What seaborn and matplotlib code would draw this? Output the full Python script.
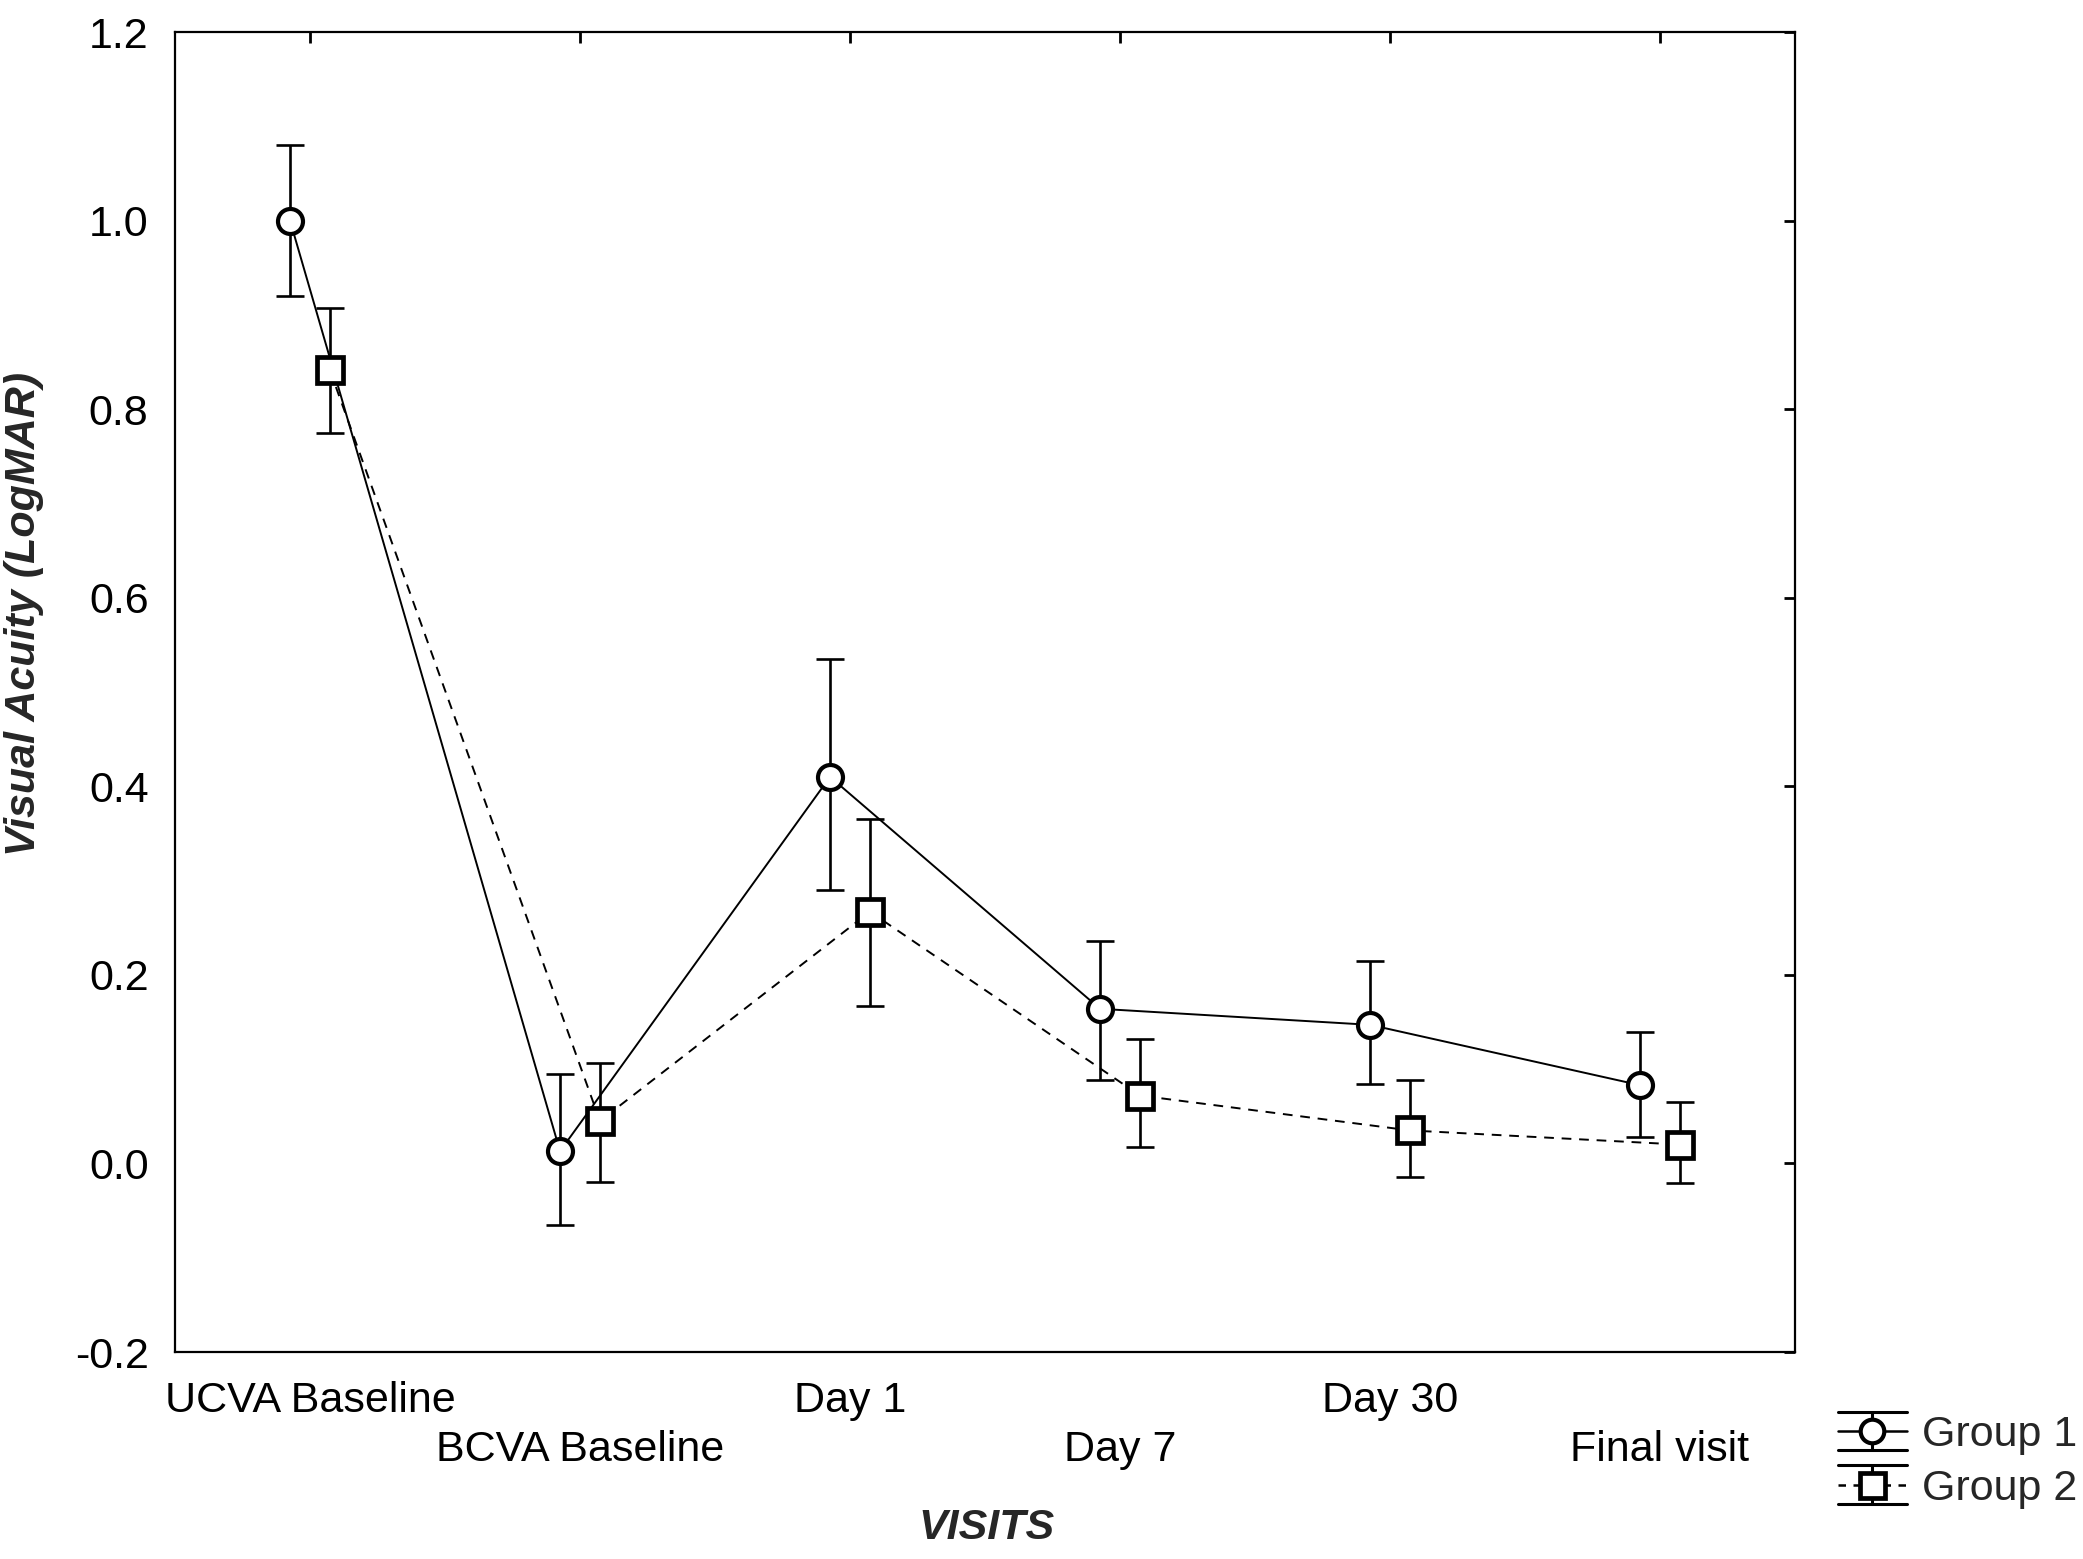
import numpy as np
import pandas as pd
import matplotlib
matplotlib.use("Agg")
import matplotlib.pyplot as plt
import seaborn as sns
from matplotlib.legend_handler import HandlerBase
from matplotlib.lines import Line2D

# ---------------- data ----------------
visits = ["UCVA Baseline", "BCVA Baseline", "Day 1", "Day 7", "Day 30", "Final visit"]
groups = ["Group 1", "Group 2"]
g1_mean = [1.000, 0.013, 0.410, 0.164, 0.147, 0.083]
g1_low = [0.920, -0.065, 0.290, 0.088, 0.084, 0.028]
g1_high = [1.080, 0.095, 0.535, 0.236, 0.215, 0.139]
g2_mean = [0.841, 0.045, 0.267, 0.072, 0.035, 0.020]
g2_low = [0.775, -0.020, 0.167, 0.017, -0.014, -0.021]
g2_high = [0.907, 0.107, 0.365, 0.132, 0.088, 0.065]
yticks = [-0.2, 0.0, 0.2, 0.4, 0.6, 0.8, 1.0, 1.2]

# ---------------- styling ----------------
sns.set_theme(style="white")
plt.rcParams["font.family"] = ["Liberation Sans", "DejaVu Sans"]
FS = 31

DODGE = {"Group 1": -0.074, "Group 2": 0.074}
rows = []
for g, m, lo, hi in [("Group 1", g1_mean, g1_low, g1_high), ("Group 2", g2_mean, g2_low, g2_high)]:
    for i, v in enumerate(visits):
        rows.append({"visit": v, "idx": i, "group": g, "mean": m[i], "low": lo[i], "high": hi[i]})
df = pd.DataFrame(rows)
df["x"] = df["idx"] + df["group"].map(DODGE)

fig = plt.figure(figsize=(20.83, 15.59), dpi=100)
ax = fig.add_axes([175 / 2083, 1 - 1352 / 1559, (1795 - 175) / 2083, (1352 - 32) / 1559])

# error bars
for g in groups:
    d = df[df["group"] == g]
    ax.errorbar(d["x"], d["mean"], yerr=[d["mean"] - d["low"], d["high"] - d["mean"]],
                fmt="none", ecolor="black", elinewidth=1.9, capsize=10, capthick=1.9, zorder=1.5)

sns.lineplot(data=df, x="x", y="mean", hue="group", style="group",
             palette={"Group 1": "black", "Group 2": "black"},
             markers={"Group 1": "o", "Group 2": "s"},
             dashes={"Group 1": "", "Group 2": (5, 4)},
             markersize=18, markerfacecolor="white", markeredgecolor="black",
             markeredgewidth=3.0, linewidth=1.4, sort=False, estimator=None,
             legend=False, ax=ax, zorder=3)
for ln in ax.lines:
    if ln.get_marker() == "s":
        ln.set_markersize(19)
        ln.set_markeredgewidth(3.4)

ax.set_xlim(-0.5, 5.5)
ax.set_ylim(-0.2, 1.2)
ax.set_yticks(yticks)
ax.set_yticklabels([f"{t:.1f}" for t in yticks], fontsize=FS)
ax.set_xticks(range(len(visits)))
ax.set_xticklabels([v if i % 2 == 0 else "\n" + v for i, v in enumerate(visits)], fontsize=FS)
for lab in ax.get_xticklabels():
    lab.set_linespacing(1.3)

ax.tick_params(axis="y", left=False, right=True, direction="in", length=8, width=2,
               pad=19, labelleft=True, labelright=False, colors="black")
ax.tick_params(axis="x", bottom=False, top=True, direction="in", length=8, width=2,
               pad=21, labelbottom=True, labeltop=False, colors="black")

for s in ax.spines.values():
    s.set_visible(True)
    s.set_color("black")
    s.set_linewidth(1.6)

ax.set_xlabel("VISITS", fontsize=FS, fontweight="bold", fontstyle="italic")
ax.set_ylabel("Visual Acuity (LogMAR)", fontsize=FS, fontweight="bold", fontstyle="italic")
ax.xaxis.label.set_va("center")
ax.yaxis.label.set_va("center")
ax.xaxis.set_label_coords(0.501, -0.133)
ax.yaxis.set_label_coords(-0.093, 0.559)


# ---------------- legend ----------------
class ErrHandler(HandlerBase):
    def __init__(self, marker, ls, ms, mew):
        super().__init__()
        self.marker = marker
        self.ls = ls
        self.ms = ms
        self.mew = mew

    def create_artists(self, legend, orig_handle, xdescent, ydescent, width, height, fontsize, trans):
        x0, x1 = -xdescent, -xdescent + width
        cx = -xdescent + width / 2
        cy = -ydescent + height / 2
        h = 0.45 * fontsize
        arts = [
            Line2D([x0, x1], [cy + h, cy + h], color="black", lw=2.2),
            Line2D([x0, x1], [cy - h, cy - h], color="black", lw=2.2),
            Line2D([cx, cx], [cy - h, cy + h], color="black", lw=2.2),
            Line2D([x0, x1], [cy, cy], color="black", lw=1.8, ls=self.ls),
            Line2D([cx], [cy], marker=self.marker, ms=self.ms, mfc="white", mec="black",
                   mew=self.mew, ls=""),
        ]
        for a in arts:
            a.set_transform(trans)
        return arts


h1 = Line2D([], [], color="black")
h2 = Line2D([], [], color="black")
fig.legend([h1, h2], groups, loc="center left", bbox_to_anchor=(1838 / 2083, 1 - 1462 / 1559),
           frameon=False, fontsize=FS, handlelength=1.6, handletextpad=0.35,
           labelspacing=0.32, borderpad=0, borderaxespad=0,
           handler_map={h1: ErrHandler("o", "-", 17, 3.0), h2: ErrHandler("s", (0, (3, 3)), 18, 3.4)})

fig.savefig("out.png", dpi=100, facecolor="white")
